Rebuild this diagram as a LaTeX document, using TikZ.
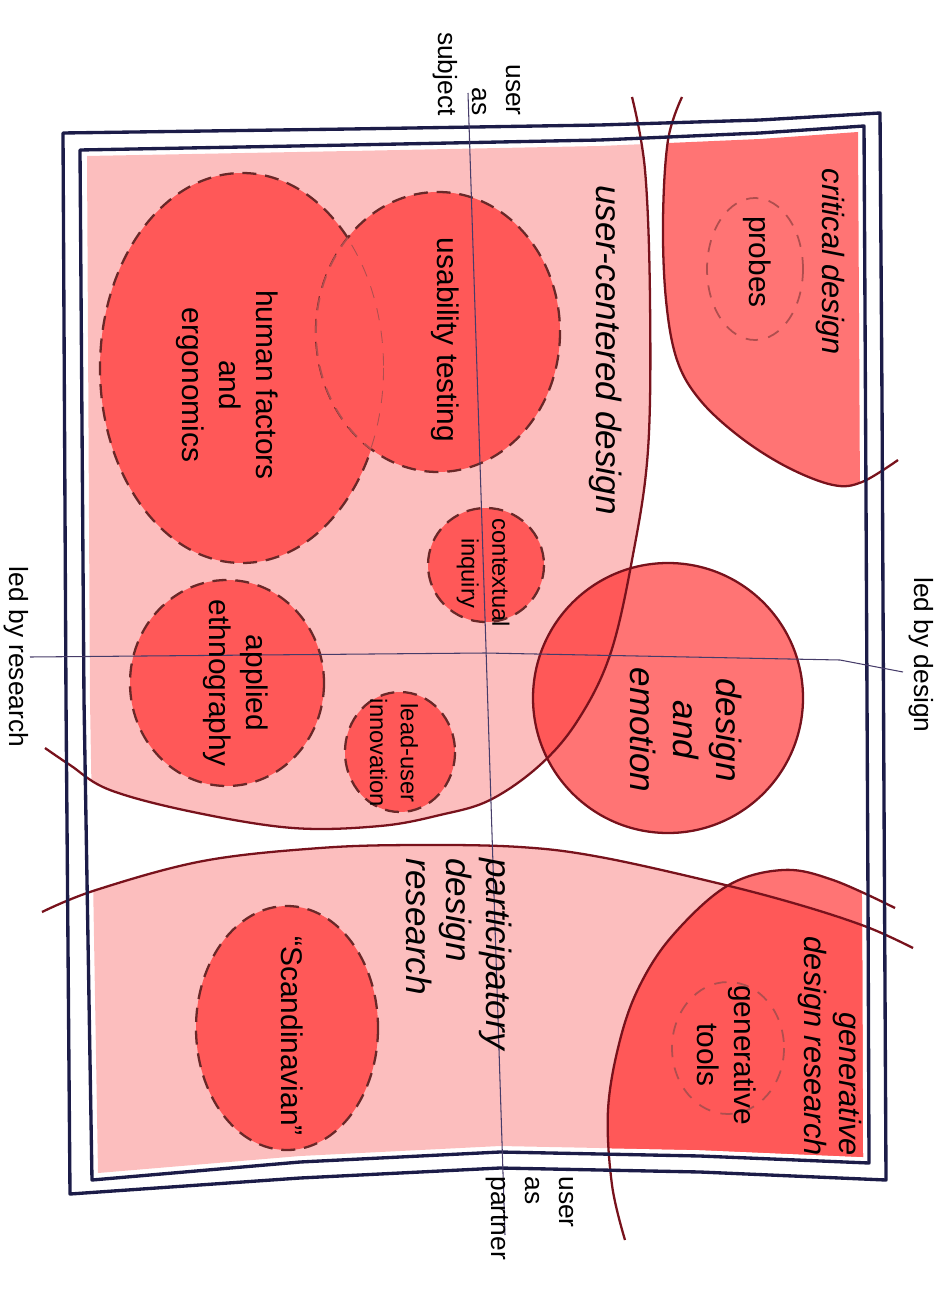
\documentclass[tikz,border=0pt]{standalone}
\usepackage{fontspec}
\setmainfont{Liberation Sans}
\usetikzlibrary{calc}

\definecolor{ucdpink}{RGB}{252,190,190}
\definecolor{salmon}{RGB}{255,116,116}
\definecolor{blobred}{RGB}{255,88,88}
\definecolor{linered}{RGB}{120,18,28}
\definecolor{framenavy}{RGB}{28,28,72}
\definecolor{dashbrown}{RGB}{105,40,40}
\definecolor{lensdash}{RGB}{175,78,78}
\definecolor{axisgrey}{RGB}{70,60,105}

\tikzset{
	blob/.style={fill=blobred, draw=dashbrown, line width=1.3pt, dash pattern=on 8pt off 5pt},
	ghost/.style={draw=lensdash, line width=1pt, dash pattern=on 7pt off 6pt},
	border/.style={draw=linered, line width=1.3pt},
	axisline/.style={draw=axisgrey, line width=0.6pt},
	tag/.style={rotate=-90, inner sep=0pt, align=center, font=\fontsize{17}{21}\selectfont},
	tinytag/.style={tag, font=\fontsize{13.5}{17.5}\selectfont},
	bigtag/.style={tag, font=\fontsize{20}{23}\selectfont\itshape},
	midtag/.style={tag, font=\fontsize{17.5}{19.5}\selectfont\itshape},
	axistag/.style={tag, font=\fontsize{15}{19.5}\selectfont},
}

\def\curveA{-- plot[smooth, tension=0.6] coordinates {(632,97) (645,170) (650,300) (648,450) (632,560) (610,655) (578,720) (540,765) (490,800) (440,815) (380,826) (293,828) (193,812) (110,790) (70,765) (45,748)}}
\def\curveB{-- plot[smooth, tension=0.6] coordinates {(682,97) (668,140) (663,220) (666,300) (677,360) (700,400) (740,437) (787,467) (833,485) (862,482) (898,460)}}
\def\curveC{-- plot[smooth, tension=0.6] coordinates {(42,912) (96,890) (203,861) (320,848) (417,845) (520,847) (600,857) (717,883) (800,905) (867,927) (913,948)}}
\def\curveG{-- plot[smooth, tension=0.6] coordinates {(625,1240) (612,1185) (608,1110) (620,1040) (640,985) (673,935) (727,886) (783,870) (833,880) (895,908)}}

\begin{document}
\begin{tikzpicture}[x=0.02cm, y=-0.02cm]
			%%%%% START %%%%%
			\useasboundingbox (0,0) rectangle (948,1290);
			
			% fields inside the frame
			\begin{scope}
				\clip (87,156) -- (350,151) -- (600,146) -- (760,139) -- (858,132) -- (860,500) -- (862,900) -- (863,1157) -- (700,1150) -- (500,1146) -- (300,1156) -- (98,1173) -- (90,700) -- cycle;
				\fill[ucdpink] (40,90) \curveA -- cycle;
				\fill[ucdpink] (42,1260) \curveC -- (913,1260) -- cycle;
				\fill[salmon] (682,90) \curveB -- (940,460) -- (940,90) -- cycle;
				\fill[salmon] (625,1260) \curveG -- (940,908) -- (940,1260) -- cycle;
				\begin{scope}
					\clip (42,1260) \curveC -- (913,1260) -- cycle;
					\fill[blobred] (625,1260) \curveG -- (940,908) -- (940,1260) -- cycle;
				\end{scope}
			\end{scope}
			
			% design and emotion
			\fill[salmon] (668,698) circle (135);
			\begin{scope}
				\clip (668,698) circle (135);
				\fill[blobred] (40,90) \curveA -- cycle;
			\end{scope}
			\draw[border] (668,698) circle (135);
			
			% human factors + usability testing
			\draw[blob] (242,368) ellipse [x radius=142, y radius=195];
			\draw[blob] (438,332) ellipse [x radius=122, y radius=140];
			\begin{scope}
				\clip (242,368) ellipse [x radius=142, y radius=195];
				\fill[blobred] (438,332) ellipse [x radius=122, y radius=140];
				\draw[ghost] (438,332) ellipse [x radius=122, y radius=140];
				\clip (438,332) ellipse [x radius=122, y radius=140];
				\draw[ghost] (242,368) ellipse [x radius=142, y radius=195];
			\end{scope}
			
			\draw[blob] (486,565) ellipse [x radius=58, y radius=57];
			\draw[blob] (227,683) ellipse [x radius=97, y radius=103];
			\draw[blob] (400,752) ellipse [x radius=55, y radius=60];
			\draw[blob] (287,1028) ellipse [x radius=91, y radius=122];
			
			\draw[ghost] (755,269) ellipse [x radius=48, y radius=71];
			\draw[ghost] (728,1048) ellipse [x radius=56, y radius=66];
			
			% hand drawn boundaries
			\draw[border] (632,97) \curveA;
			\draw[border] (682,97) \curveB;
			\draw[border] (42,912) \curveC;
			\draw[border] (625,1240) \curveG;
			
			% double frame
			\draw[framenavy, line width=1.9pt, line join=round] (63,133) -- (350,129) -- (600,125) -- (760,120) -- (880,113) -- (882,400) -- (884,800) -- (886,1180) -- (700,1172) -- (500,1168) -- (300,1178) -- (70,1194) -- (66,700) -- cycle;
			\draw[framenavy, line width=1.9pt, line join=round] (80,150) -- (350,145) -- (600,140) -- (760,133) -- (864,126) -- (866,500) -- (868,900) -- (869,1163) -- (700,1156) -- (500,1152) -- (300,1162) -- (92,1180) -- (84,700) -- cycle;
			
			% axes
			\coordinate (subjEnd) at (468,93);
			\coordinate (partEnd) at (505,1235);
			\coordinate (resEnd) at (30,657);
			\coordinate (origin) at (485,653);
			\coordinate (desBend) at (840,660);
			\coordinate (desEnd) at (903,672);
			\draw[axisline] (subjEnd) -- (partEnd);
			\draw[axisline] (resEnd) -- (origin) -- (desBend) -- (desEnd);
			
			% labels
			\node[bigtag] (ucd) at (606,350) {user-centered design};
			\node[tag] (hf) at (227,385) {human factors\\and\\ergonomics};
			\node[tag] (ut) at (445,340) {usability testing};
			\node[tinytag] (ci) at (483,573) {contextual\\inquiry};
			\node[tag] (ae) at (236,683) {applied\\ethnography};
			\node[tinytag] (lu) at (394,753) {lead-user\\innovation};
			\node[bigtag, font=\fontsize{20}{24.5}\selectfont\itshape] (de) at (686,730) {design\\and\\emotion};
			\node[midtag] (cd) at (830,262) {critical design};
			\node[tag] (pr) at (757,262) {probes};
			\node[bigtag, align=left, anchor=west] (pdr) at (459,858) {participatory\\design\\research};
			\node[tag] (sc) at (292,1036) {``Scandinavian''};
			\node[midtag, align=right, anchor=east] (gdr) at (830,1156) {generative\\design research};
			\node[tag] (gt) at (727,1055) {generative\\tools};
			
			\node[axistag, align=right, anchor=east] (usubj) at (477,116) {user\\as\\subject};
			\node[axistag, align=left, anchor=west] (upart) at (530,1176) {user\\as\\partner};
			\node[axistag] (lres) at (16,657) {led by research};
			\node[axistag] (ldes) at (921,655) {led by design};
			%%%%% END %%%%%
\end{tikzpicture}
\end{document}
